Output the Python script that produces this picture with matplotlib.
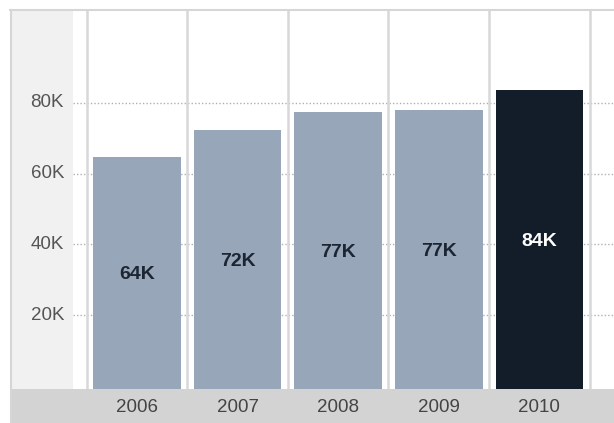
import matplotlib
matplotlib.use("Agg")
import matplotlib.pyplot as plt
from matplotlib.patches import Rectangle
from matplotlib.lines import Line2D

years = ["2006", "2007", "2008", "2009", "2010"]
values = [64.8, 72.4, 77.5, 78.0, 83.8]          # thousands
bar_labels = ["64K", "72K", "77K", "77K", "84K"]
highlight = [False, False, False, False, True]
yticks = [20, 40, 60, 80]
ytick_labels = ["20K", "40K", "60K", "80K"]

plt.rcParams['font.family'] = ['Liberation Sans', 'DejaVu Sans']

W, H = 614, 423
fig = plt.figure(figsize=(W / 100, H / 100), dpi=100)
fig.patch.set_facecolor("white")

def fx(px):
    return px / W

def fy(py):
    return 1 - py / H

# left header panel and bottom strip
fig.patches.append(Rectangle((fx(10), fy(389)), fx(73) - fx(10), fy(10) - fy(389),
                             transform=fig.transFigure, facecolor="#f1f1f1", edgecolor="none", zorder=0))
fig.patches.append(Rectangle((fx(10), 0), 1 - fx(10), fy(389),
                             transform=fig.transFigure, facecolor="#d3d3d3", edgecolor="none", zorder=0))
# outer frame lines
fig.lines.append(Line2D([fx(10), 1], [fy(10.5), fy(10.5)], transform=fig.transFigure,
                        color="#d6d6d6", lw=1.5))
fig.lines.append(Line2D([fx(10.5), fx(10.5)], [0, fy(10)], transform=fig.transFigure,
                        color="#d6d6d6", lw=1.5))

ax = fig.add_axes([fx(73), fy(389), 1 - fx(73), fy(11) - fy(389)])
ax.set_facecolor("white")

ymin = -0.85
ymax = 106.0
ax.set_ylim(ymin, ymax)
ax.set_xlim(-0.636, 4.742)

x = list(range(len(years)))

# horizontal dotted gridlines
for t in yticks:
    ax.axhline(t, color="#b0b0b0", lw=1.0, ls=(0, (1, 1.5)), zorder=1)

# vertical separators
for b in [i - 0.5 for i in range(len(years) + 1)]:
    ax.axvline(b, color="#d8d8d8", lw=1.8, zorder=1)

colors = ["#131d2a" if h else "#97a6b8" for h in highlight]
ax.bar(x, [v - ymin for v in values], bottom=ymin, width=0.87, color=colors,
       edgecolor="none", zorder=2)

for xi, v, lab, h in zip(x, values, bar_labels, highlight):
    ax.text(xi, (v + ymin) / 2 - 0.6, lab, ha="center", va="center", fontsize=14,
            fontweight="bold", color="white" if h else "#1c2533", zorder=3)

for s in ax.spines.values():
    s.set_visible(False)
ax.set_xticks([])
ax.set_yticks([])

# y tick labels in the left panel
for t, lab in zip(yticks, ytick_labels):
    yp = ax.transData.transform((0, t))[1]
    fig.text(fx(64), yp / H, lab, ha="right", va="center", fontsize=13.5, color="#555555")

# x category labels in the bottom strip
for xi, lab in zip(x, years):
    xp = ax.transData.transform((xi, 0))[0]
    fig.text(xp / W, fy(407), lab, ha="center", va="center", fontsize=13.5, color="#444444")

fig.savefig("out.png", dpi=100)
